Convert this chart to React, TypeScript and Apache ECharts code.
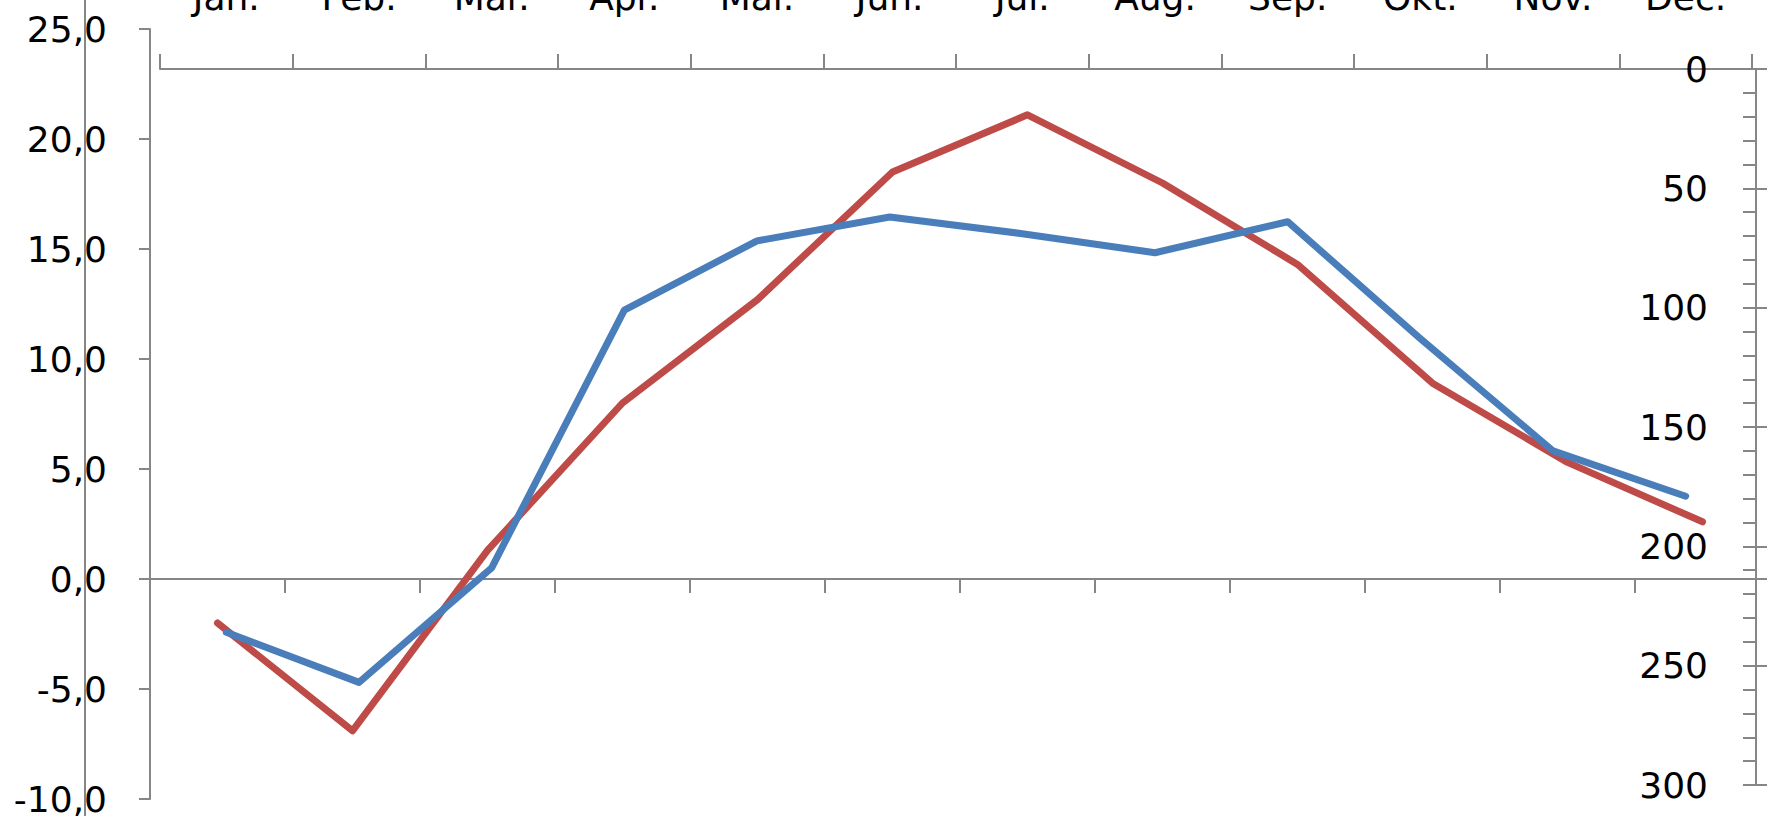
import React, { useEffect, useRef } from "react";
import * as echarts from "echarts";

const months = ["Jan.", "Feb.", "Mar.", "Apr.", "Mai.", "Jun.", "Jul.", "Aug.", "Sep.", "Okt.", "Nov.", "Dec."];
const temperature = [-2.0, -6.9, 1.3, 8.0, 12.7, 18.5, 21.1, 18.0, 14.3, 8.9, 5.3, 2.6];
const precipitation = [236, 257, 209, 101, 72, 62, 69, 77, 64, 113, 160, 179];
const leftMin = -10;
const leftMax = 25;
const leftStep = 5;
const rightMin = 0;
const rightMax = 300;
const rightStep = 50;

const AXIS = "#868686";
const FONT = "DejaVu Sans";

export default function App() {
  const ref = useRef<HTMLDivElement>(null);
  useEffect(() => {
    const chart = echarts.init(ref.current!, null, { renderer: "svg" });
    const axisLine = { show: true, lineStyle: { color: AXIS, width: 2 } };
    const tickStyle = { color: AXIS, width: 2 };
    chart.setOption({
      animation: false,
      backgroundColor: "#ffffff",
      grid: [
        { left: 150, top: 29, width: 1620, height: 770, outerBoundsMode: "none", containLabel: false },
        { left: 160, top: 69, width: 1592, height: 716, outerBoundsMode: "none", containLabel: false },
      ],
      xAxis: [
        {
          type: "category",
          gridIndex: 0,
          data: months,
          position: "bottom",
          boundaryGap: true,
          axisLine: { ...axisLine, onZero: true },
          axisTick: { show: true, interval: 0, length: 14, lineStyle: tickStyle },
          axisLabel: { show: false },
          splitLine: { show: false },
        },
        {
          type: "category",
          gridIndex: 1,
          data: months,
          position: "top",
          boundaryGap: true,
          axisLine: { ...axisLine, onZero: false },
          axisTick: { show: true, interval: 0, length: 15, lineStyle: tickStyle },
          axisLabel: {
            show: true,
            interval: 0,
            margin: 54,
            fontSize: 36,
            lineHeight: 36,
            fontFamily: FONT,
            color: "#000",
          },
          splitLine: { show: false },
        },
      ],
      yAxis: [
        {
          type: "value",
          gridIndex: 0,
          position: "left",
          min: leftMin,
          max: leftMax,
          interval: leftStep,
          axisLine,
          axisTick: { show: true, length: 11, lineStyle: tickStyle },
          axisLabel: {
            margin: 43,
            fontSize: 36,
            fontFamily: FONT,
            color: "#000",
            formatter: (v: number) => v.toFixed(1).replace(".", ","),
          },
          splitLine: { show: false },
        },
        {
          type: "value",
          gridIndex: 1,
          position: "right",
          inverse: true,
          offset: 4,
          min: rightMin,
          max: rightMax,
          interval: rightStep,
          axisLine,
          axisTick: { show: true, inside: true, length: 13, lineStyle: tickStyle },
          minorTick: { show: true, splitNumber: 5, length: 13, lineStyle: tickStyle },
          axisLabel: {
            inside: true,
            margin: 48,
            fontSize: 36,
            fontFamily: FONT,
            color: "#000",
          },
          splitLine: { show: false },
        },
        {
          type: "value",
          gridIndex: 1,
          position: "right",
          inverse: true,
          offset: 4,
          min: rightMin,
          max: rightMax,
          interval: rightStep,
          axisLine: { show: false },
          axisTick: { show: true, inside: false, length: 11, lineStyle: tickStyle },
          axisLabel: { show: false },
          splitLine: { show: false },
        },
      ],
      graphic: [
        {
          type: "line",
          shape: { x1: 85, y1: 0, x2: 85, y2: 816 },
          style: { stroke: AXIS, lineWidth: 2 },
          z: 10,
        },
      ],
      series: [
        {
          type: "line",
          name: "Temperatur",
          xAxisIndex: 0,
          yAxisIndex: 0,
          data: temperature,
          symbol: "none",
          lineStyle: { color: "#BE4B48", width: 7, join: "round", cap: "round" },
          itemStyle: { color: "#BE4B48" },
          z: 3,
        },
        {
          type: "line",
          name: "Nedbør",
          xAxisIndex: 1,
          yAxisIndex: 1,
          data: precipitation,
          symbol: "none",
          lineStyle: { color: "#4A7EBB", width: 7, join: "round", cap: "round" },
          itemStyle: { color: "#4A7EBB" },
          z: 4,
        },
      ],
    });
    return () => chart.dispose();
  }, []);
  return (
    <div
      style={{
        position: "fixed",
        left: 0,
        top: 0,
        width: 1767,
        height: 816,
        overflow: "hidden",
        background: "#fff",
      }}
    >
      <div ref={ref} style={{ width: 1800, height: 816 }} />
    </div>
  );
}
